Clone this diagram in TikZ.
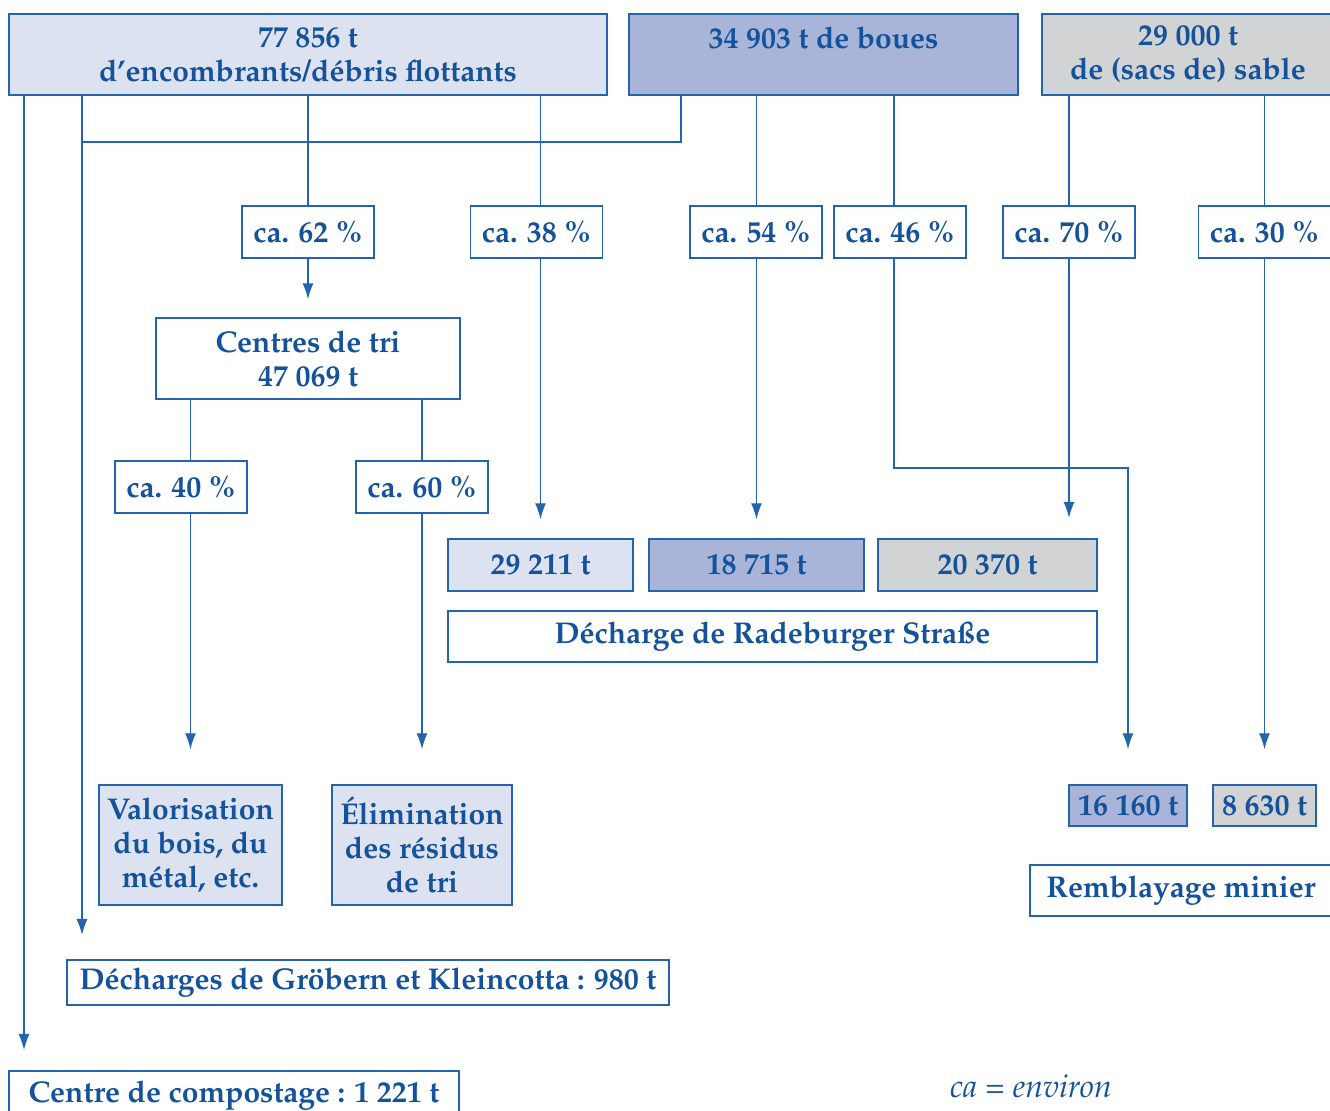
\documentclass[tikz,border=0pt]{standalone}
\usepackage[T1]{fontenc}
\usepackage{mathpazo}
\usetikzlibrary{arrows.meta}

\definecolor{txtblue}{RGB}{20,82,155}
\definecolor{linblue}{RGB}{35,100,172}
\definecolor{fillA}{RGB}{221,226,240}
\definecolor{fillB}{RGB}{169,181,216}
\definecolor{fillC}{RGB}{210,211,213}

\tikzset{
  box/.style={draw=linblue, line width=0.7pt, text=txtblue, align=center,
    inner sep=0pt, font=\bfseries\fontsize{15}{17}\selectfont},
  boxA/.style={box, fill=fillA},
  boxB/.style={box, fill=fillB},
  boxC/.style={box, fill=fillC},
  pct/.style={box, fill=white, minimum width=66pt, minimum height=26pt},
  flow/.style={draw=linblue, line width=0.7pt},
  arr/.style={flow, -{Latex[length=8pt,width=5.5pt]}}
}

\begin{document}
\begin{tikzpicture}[x=0.5pt, y=-0.5pt]

    % --- Frame ---
    \clip (0,0) rectangle (1330,1111);

    % --- Sources (top row) ---
    % Debris
    \node[boxA, minimum width=299pt, minimum height=40.5pt] (A) at (308,54.5)
      {77 856 t\\d'encombrants/d\'ebris flottants};
    % Sludge
    \node[boxB, minimum width=194.5pt, minimum height=40.5pt] (B) at (823.5,54.5)
      {34 903 t de boues\\\mbox{}};
    % Sand
    \node[boxC, minimum width=146pt, minimum height=40.5pt] (C) at (1188,54.5)
      {29 000 t\\de (sacs de) sable};

    % --- Shares ---
    \node[pct] (p62) at (308,232) {ca. 62~\%};
    \node[pct] (p38) at (536.5,232) {ca. 38~\%};
    \node[pct] (p54) at (756,232) {ca. 54~\%};
    \node[pct] (p46) at (900,232) {ca. 46~\%};
    \node[pct] (p70) at (1069,232) {ca. 70~\%};
    \node[pct] (p30) at (1264.5,232) {ca. 30~\%};

    % Sorting centres and their split
    \node[box, minimum width=152pt, minimum height=40.5pt] (tri) at (308,358.5)
      {Centres de tri\\47 069 t};
    \node[pct] (p40) at (181,487) {ca. 40~\%};
    \node[pct] (p60) at (422,487) {ca. 60~\%};

    % --- Destinations ---
    \node[boxA, minimum width=91.5pt, minimum height=60pt] (val) at (190.5,845)
      {Valorisation\\du bois, du\\m\'etal, etc.};
    \node[boxA, minimum width=90pt, minimum height=60pt] (elim) at (422,845)
      {\'Elimination\\des r\'esidus\\de tri};

    % Radeburger Strasse
    \node[boxA, minimum width=92.5pt, minimum height=26pt] (r29) at (540.5,565) {29 211 t};
    \node[boxB, minimum width=107.5pt, minimum height=26pt] (r18) at (756.5,565) {18 715 t};
    \node[boxC, minimum width=109.5pt, minimum height=26pt] (r20) at (987.5,565) {20 370 t};
    \node[box, minimum width=324.5pt, minimum height=25.5pt] (rad) at (772.5,636.5)
      {D\'echarge de Radeburger Stra\ss e};

    % Mine backfill
    \node[boxB, minimum width=59pt, minimum height=20.5pt] (r16) at (1128,805.5) {16 160 t};
    \node[boxC, minimum width=51.5pt, minimum height=20.5pt] (r86) at (1264.5,805.5) {8 630 t};
    \node[box, minimum width=151pt, minimum height=25.5pt] (remb) at (1181,890.5)
      {Remblayage minier};

    % Landfills and composting
    \node[box, minimum width=301pt, minimum height=22.5pt] (grob) at (368,982.5)
      {D\'echarges de Gr\"obern et Kleincotta : 980 t};
    \node[box, minimum width=225pt, minimum height=25pt] (comp) at (234,1096)
      {Centre de compostage : 1 221 t};

    % Legend
    \node[text=txtblue, font=\itshape\fontsize{16}{18}\selectfont] (note) at (1031,1086)
      {ca = environ};

    % --- Connectors ---
    \coordinate (compTip) at (24,1050);
    \coordinate (grobTip) at (82,935);
    \coordinate (jn) at (681,142);
    \coordinate (bend) at (894,468);
    \coordinate (t70) at (1069,518);

    \draw[arr] (A.south -| compTip) -- (compTip);
    \draw[arr] (A.south -| grobTip) -- (grobTip);
    \draw[flow] (B.south -| jn) -- (jn) -- (jn -| grobTip);

    \draw[flow] (A.south -| p62) -- (p62.north);
    \draw[arr, shorten >=9pt] (p62.south) -- (tri.north);
    \draw[flow] (A.south -| r29) -- (p38.north -| r29);
    \draw[arr, shorten >=9.5pt] (p38.south -| r29) -- (r29.north);

    \draw[flow] (B.south -| r18) -- (p54.north -| r18);
    \draw[arr, shorten >=9.5pt] (p54.south -| r18) -- (r18.north);
    \draw[flow] (B.south -| bend) -- (p46.north -| bend);
    \draw[arr, shorten >=17.5pt] (p46.south -| bend) -- (bend) -| (r16.north);

    \draw[flow] (C.south -| t70) -- (p70.north);
    \draw[arr] (p70.south) -- (t70);
    \draw[flow] (C.south -| r86) -- (p30.north -| r86);
    \draw[arr, shorten >=17.5pt] (p30.south -| r86) -- (r86.north);

    \draw[flow] (tri.south -| val) -- (p40.north -| val);
    \draw[arr, shorten >=17.5pt] (p40.south -| val) -- (val.north);
    \draw[flow] (tri.south -| elim) -- (p60.north -| elim);
    \draw[arr, shorten >=17.5pt] (p60.south -| elim) -- (elim.north);

\end{tikzpicture}
\end{document}
